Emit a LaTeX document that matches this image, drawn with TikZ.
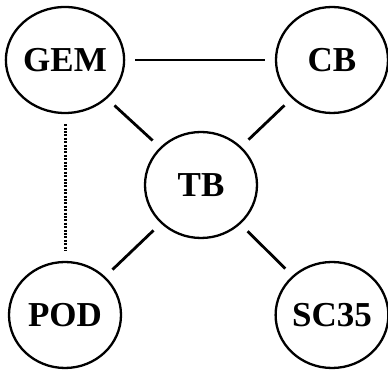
\documentclass[tikz,border=0pt]{standalone}
\usepackage{fontspec}
\setmainfont{Liberation Serif}
\usetikzlibrary{shapes.geometric}

\begin{document}
\begin{tikzpicture}[
  x=1pt, y=1pt,
  every node/.style={font=\fontsize{35}{38}\selectfont\bfseries},
  body/.style={draw, ellipse, line width=2.3pt, minimum width=112pt, minimum height=106pt, inner sep=0pt},
  link/.style={line width=2.8pt, shorten >=10pt, shorten <=10pt}
]
\useasboundingbox (0,0) rectangle (388,371);
\node[body] (gem) at (65,311) {GEM};
\node[body] (cb) at (332,311) {CB};
\node[body] (tb) at (201,186) {TB};
\node[body] (pod) at (65,56) {POD};
\node[body] (sc) at (332,56) {SC35};
\draw[link] (gem) -- (cb);
\draw[link] (gem) -- (tb);
\draw[link] (cb) -- (tb);
\draw[link] (tb) -- (pod);
\draw[link] (tb) -- (sc);
\draw[link, line width=3pt, dash pattern=on 2pt off 1.4pt] (gem) -- (pod);
\end{tikzpicture}
\end{document}
